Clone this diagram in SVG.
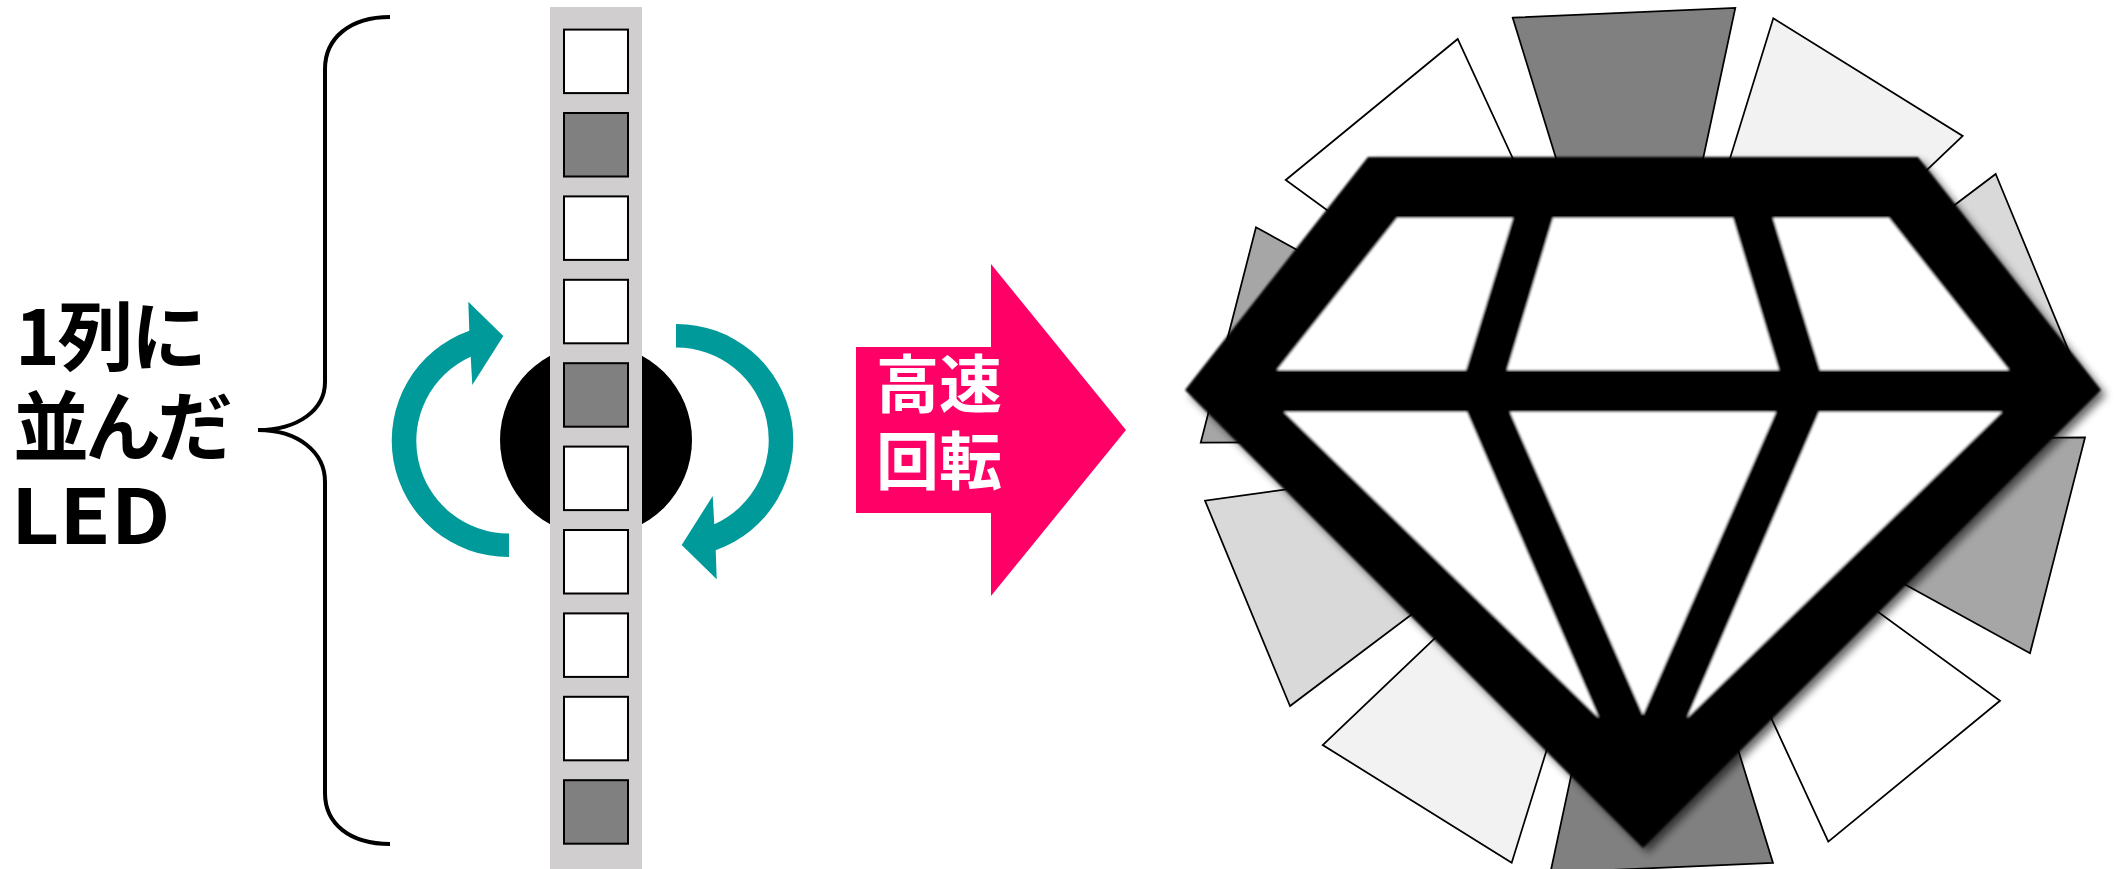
<svg xmlns="http://www.w3.org/2000/svg" xmlns:xlink="http://www.w3.org/1999/xlink" width="2119" height="869" viewBox="0 0 2119 869">
  <style>
    .label { font-family: "Noto Sans CJK JP", "Noto Sans", sans-serif; font-weight: 700; }
    .led { stroke: #000; stroke-width: 2; }
    .led-on { fill: #ffffff; }
    .led-off { fill: #808080; }
    .seg { stroke: #000; stroke-width: 1.75; stroke-linejoin: miter; }
    .teal { fill: #009a9a; }
  </style>
  <defs>
    <!-- curved rotation arrow; the second one is the same shape turned 180° -->
    <path id="spinArrow" d="M 509 557 A 116.5 116.5 0 0 1 469.3 330.7 L 468.3 301.7 L 503.3 336 L 472.3 385 L 470.7 356.7 A 92.5 92.5 0 0 0 509 533.5 Z"/>
    <filter id="gemShadow" x="-10%" y="-10%" width="125%" height="125%">
      <feGaussianBlur in="SourceAlpha" stdDeviation="4" result="b"/>
      <feOffset in="b" dx="5" dy="5" result="o"/>
      <feComponentTransfer in="o" result="s">
        <feFuncA type="linear" slope="0.6"/>
      </feComponentTransfer>
      <feGaussianBlur in="SourceGraphic" stdDeviation="0.8" result="g"/>
      <feMerge>
        <feMergeNode in="s"/>
        <feMergeNode in="g"/>
      </feMerge>
    </filter>
  </defs>

  <rect width="2119" height="869" fill="#ffffff"/>

  <!-- label and brace -->
  <g id="label-led">
    <text class="label" font-size="76" fill="#000" x="15" y="365" textLength="192" lengthAdjust="spacing">1列に</text>
    <text class="label" font-size="76" fill="#000" x="13" y="455" textLength="220" lengthAdjust="spacing">並んだ</text>
    <text class="label" font-size="76" fill="#000" transform="translate(11 544) scale(1.1 1)">LED</text>
  </g>
  <g id="brace">
    <path d="M 390 17 C 350 17, 325 38, 325 69 L 325 382 C 325 410, 298 430, 258 430 C 298 430, 325 452, 325 482 L 325 793 C 325 824, 350 844, 390 844" fill="none" stroke="#000" stroke-width="4"/>
  </g>

  <!-- rotating LED bar -->
  <g id="hub">
    <circle cx="596" cy="440" r="96" fill="#000"/>
  </g>
  <g id="led-strip">
    <rect x="550" y="7" width="92" height="862" fill="#d0cece"/>
    <rect class="led led-on"  x="564" y="29.6"  width="64" height="63.5"/>
    <rect class="led led-off" x="564" y="113"   width="64" height="63.5"/>
    <rect class="led led-on"  x="564" y="196.4" width="64" height="63.5"/>
    <rect class="led led-on"  x="564" y="279.8" width="64" height="63.5"/>
    <rect class="led led-off" x="564" y="363.2" width="64" height="63.5"/>
    <rect class="led led-on"  x="564" y="446.6" width="64" height="63.5"/>
    <rect class="led led-on"  x="564" y="530"   width="64" height="63.5"/>
    <rect class="led led-on"  x="564" y="613.4" width="64" height="63.5"/>
    <rect class="led led-on"  x="564" y="696.8" width="64" height="63.5"/>
    <rect class="led led-off" x="564" y="780.2" width="64" height="63.5"/>
  </g>
  <g id="spin-left">
    <use xlink:href="#spinArrow" href="#spinArrow" class="teal"/>
  </g>
  <g id="spin-right">
    <use xlink:href="#spinArrow" href="#spinArrow" class="teal" transform="rotate(180 592.5 440.5)"/>
  </g>

  <!-- block arrow -->
  <g id="fast-spin">
    <polygon points="856,347 991,347 991,264 1126,430 991,596 991,513 856,513" fill="#ff0066"/>
    <text class="label" font-size="63" fill="#ffffff" x="876" y="407">高速</text>
    <text class="label" font-size="63" fill="#ffffff" x="876" y="484">回転</text>
  </g>

  <!-- afterimage ring of ten segments -->
  <g id="ring">
    <polygon class="seg" fill="#ffffff" points="1285.7,180 1457.7,39 1550.3,239.7 1464.3,310.2"/>
    <polygon class="seg" fill="#808080" points="1512.7,17.7 1735.3,8 1689.1,224.2 1577.8,229"/>
    <polygon class="seg" fill="#f2f2f2" points="1773.3,18.3 1962.7,136 1802.8,288.2 1708.1,229.3"/>
    <polygon class="seg" fill="#d9d9d9" points="1995.7,174 2080.7,379.9 1861.8,410.1 1819.3,307.2"/>
    <polygon class="seg" fill="#a6a6a6" points="2085,437.5 2030,653.3 1836.4,546.8 1863.9,438.9"/>
    <polygon class="seg" fill="#ffffff" points="2000,700.7 1828.3,841.7 1735.6,641 1821.4,570.5"/>
    <polygon class="seg" fill="#808080" points="1773,862.9 1550.4,872.6 1596.6,656.5 1707.9,651.6"/>
    <polygon class="seg" fill="#f2f2f2" points="1511.7,862.7 1322.7,745 1482.8,592.7 1577.3,651.5"/>
    <polygon class="seg" fill="#d9d9d9" points="1290,706 1205,500.7 1423.9,470.5 1466.4,573.2"/>
    <polygon class="seg" fill="#a6a6a6" points="1200.7,442.7 1256,227.3 1449.4,333.8 1421.8,441.5"/>
  </g>

  <!-- gem icon -->
  <g id="gem" filter="url(#gemShadow)">
    <polygon points="1368,157 1918,157 2101,390 1643,848 1185,390" fill="#000"/>
    <g fill="#ffffff">
      <polygon points="1397,218 1513,218 1466,370 1277,370"/>
      <polygon points="1553,218 1733,218 1779,370 1507,370"/>
      <polygon points="1773,218 1889,218 2009,370 1820,370"/>
      <polygon points="1284,412 1467,412 1599,718"/>
      <polygon points="1510,412 1776,412 1643,715"/>
      <polygon points="1819,412 2002,412 1687,718"/>
    </g>
  </g>
</svg>
